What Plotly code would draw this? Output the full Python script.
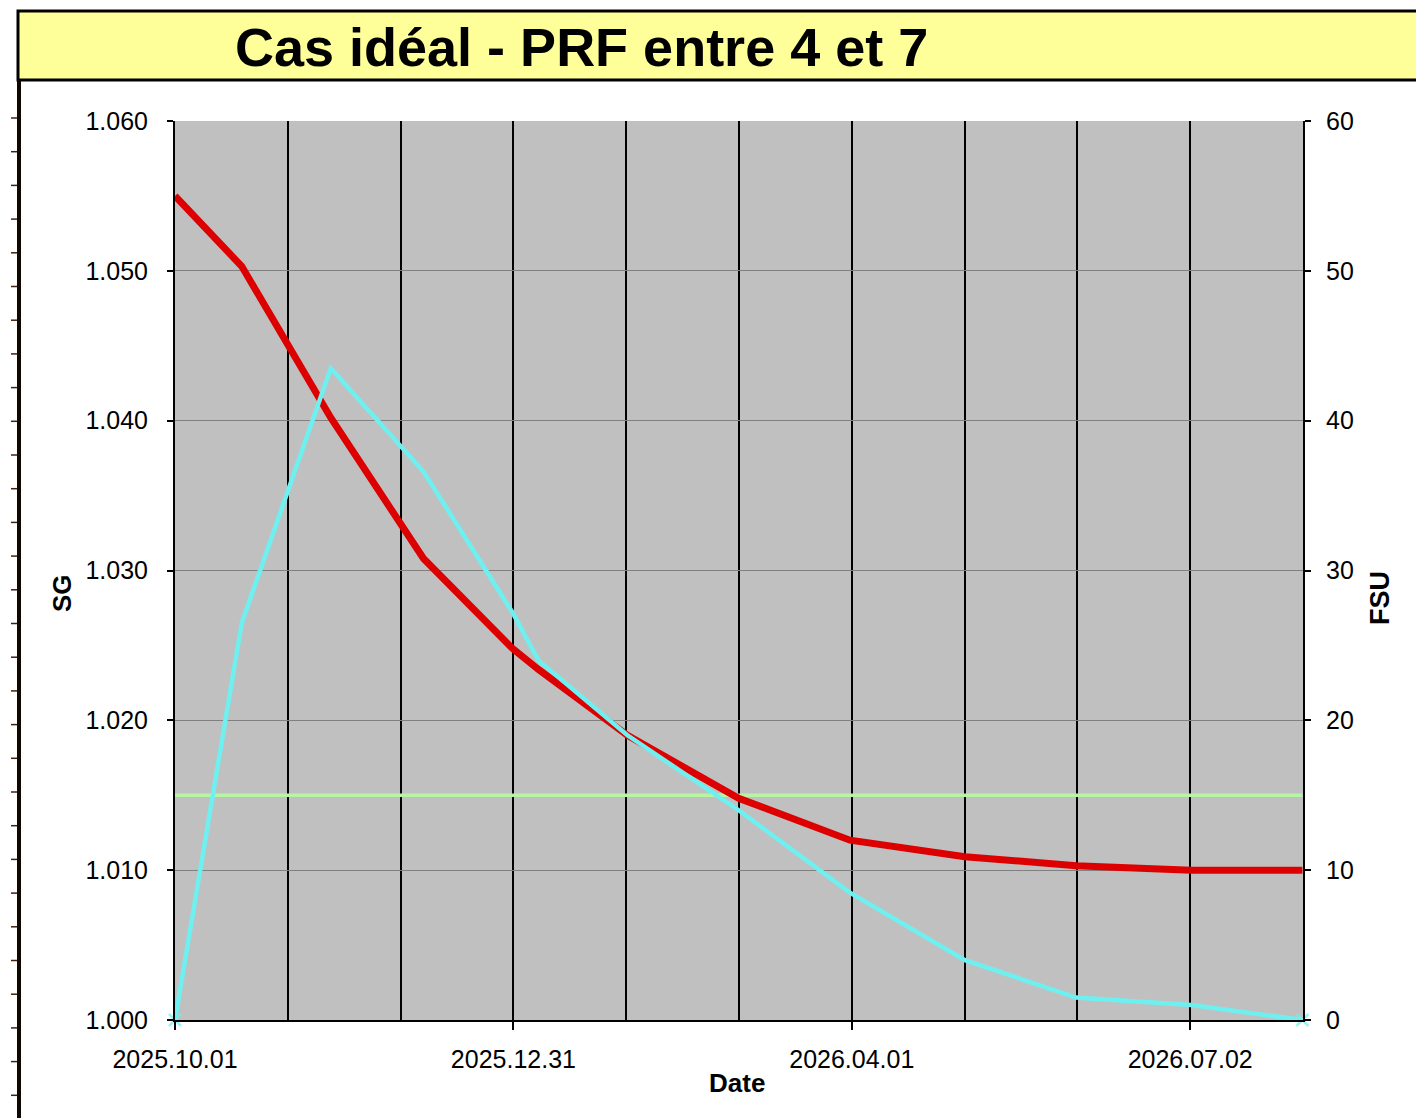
import plotly.graph_objects as go
from datetime import datetime, timedelta

# ---- data ----
dates = ["2025-10-01", "2025-10-19", "2025-11-12", "2025-12-07", "2025-12-31",
         "2026-01-07", "2026-01-31", "2026-03-02", "2026-04-01", "2026-05-02",
         "2026-06-01", "2026-07-02", "2026-08-01"]
sg = [1.0550, 1.0503, 1.0402, 1.0308, 1.0248, 1.0234, 1.0190, 1.0148,
      1.0120, 1.0109, 1.0103, 1.0100, 1.0100]
fsu = [0, 26.5, 43.5, 36.6, 27.2, 24.0, 19.0, 14.0, 8.5, 4.0, 1.5, 1.0, 0]
threshold_sg = 1.015
tick_labels = ["2025.10.01", "2025.12.31", "2026.04.01", "2026.07.02"]
title_text = "Cas idéal - PRF entre 4 et 7"

# ---- layout geometry (page pixels; body has an 8px margin) ----
OFF = 8
W, H = 1424 - OFF, 1120 - OFF - 2
L, R, T, B = 175, 1303, 121, 1020
pw, ph = R - L, B - T


def px2x(px):
    return (px - L) / pw


def px2y(py):
    return (B - py) / ph


start = datetime(2025, 10, 1)
step = timedelta(days=365 / 12)
grid_dates = [start + step * k for k in range(11)]
major_dates = [grid_dates[k] for k in (0, 3, 6, 9)]
x_end = grid_dates[-1]

FONT = "Arial, Liberation Sans, sans-serif"
CYAN = "#6FF0F0"

n = len(fsu)
end_marker_sizes = [12 if i in (0, n - 1) else 0 for i in range(n)]

fig = go.Figure()

fig.add_trace(go.Scatter(
    x=[dates[0], dates[-1]], y=[threshold_sg, threshold_sg], mode="lines",
    line=dict(color="#B6F6A2", width=3.5), yaxis="y", hoverinfo="skip",
    name="seuil"))

fig.add_trace(go.Scatter(
    x=dates, y=sg, mode="lines", line=dict(color="#DD0000", width=7),
    yaxis="y", name="SG"))

fig.add_trace(go.Scatter(
    x=dates, y=fsu, mode="lines+markers",
    line=dict(color=CYAN, width=4.5),
    marker=dict(symbol="x-thin", size=end_marker_sizes,
                line=dict(color=CYAN, width=2.5)),
    yaxis="y2", name="FSU", cliponaxis=False))

shapes = []
# title box
shapes.append(dict(type="rect", xref="paper", yref="paper",
                   x0=px2x(18), x1=px2x(1440), y0=px2y(80), y1=px2y(11),
                   line=dict(color="black", width=3), fillcolor="#FFFF99",
                   layer="below"))
# left border of sheet
shapes.append(dict(type="line", xref="paper", yref="paper",
                   x0=px2x(19), x1=px2x(19), y0=px2y(80), y1=px2y(1125),
                   line=dict(color="#100800", width=4)))
# row tick marks on the left
yy = 118
while yy < 1120:
    shapes.append(dict(type="line", xref="paper", yref="paper",
                       x0=px2x(11), x1=px2x(17), y0=px2y(yy), y1=px2y(yy),
                       line=dict(color="#402010", width=1.5)))
    yy += 33.7

annotations = [
    dict(text="<b>" + title_text + "</b>", xref="paper", yref="paper",
         x=px2x(233), y=px2y(47), xanchor="left", yanchor="middle",
         showarrow=False, font=dict(family=FONT, size=54, color="black")),
    dict(text="<b>SG</b>", xref="paper", yref="paper", x=px2x(62), y=px2y(593),
         xanchor="center", yanchor="middle", textangle=-90, showarrow=False,
         font=dict(family=FONT, size=26, color="black")),
    dict(text="<b>FSU</b>", xref="paper", yref="paper", x=px2x(1380), y=px2y(598),
         xanchor="center", yanchor="middle", textangle=-90, showarrow=False,
         font=dict(family=FONT, size=27, color="black")),
    dict(text="<b>Date</b>", xref="paper", yref="paper", x=px2x(737), y=px2y(1083),
         xanchor="center", yanchor="middle", showarrow=False,
         font=dict(family=FONT, size=26, color="black")),
]

fig.update_layout(
    width=W, height=H,
    margin=dict(l=L - OFF, r=W - (R - OFF), t=T - OFF, b=H - (B - OFF), pad=0),
    paper_bgcolor="white", plot_bgcolor="#C0C0C0",
    showlegend=False,
    font=dict(family=FONT, size=25, color="black"),
    shapes=shapes, annotations=annotations,
    xaxis=dict(
        type="date", range=[start, x_end],
        tickmode="array", tickvals=major_dates, ticktext=tick_labels,
        ticks="outside", ticklen=8, tickwidth=1.5, tickcolor="black",
        ticklabelstandoff=8,
        showgrid=True, gridcolor="black", gridwidth=1.8,
        minor=dict(tickmode="array", tickvals=grid_dates, showgrid=True,
                   gridcolor="black", gridwidth=1.8, ticks=""),
        showline=True, linecolor="black", linewidth=2,
        zeroline=False, tickfont=dict(size=25),
    ),
    yaxis=dict(
        range=[1.0, 1.06], tickmode="linear", tick0=1.0, dtick=0.01,
        tickformat=".3f", ticks="outside", ticklen=6, tickwidth=1.5,
        tickcolor="black", showgrid=True, gridcolor="#808080", gridwidth=1,
        showline=True, linecolor="black", linewidth=2, zeroline=False,
        ticklabelstandoff=14, tickfont=dict(size=25),
    ),
    yaxis2=dict(
        range=[0, 60], tickmode="linear", tick0=0, dtick=10,
        overlaying="y", side="right", ticks="outside", ticklen=6,
        tickwidth=1.5, tickcolor="black", showgrid=False,
        showline=True, linecolor="black", linewidth=2, zeroline=False,
        ticklabelstandoff=10, tickfont=dict(size=25),
    ),
)

fig.write_html("out.html")
